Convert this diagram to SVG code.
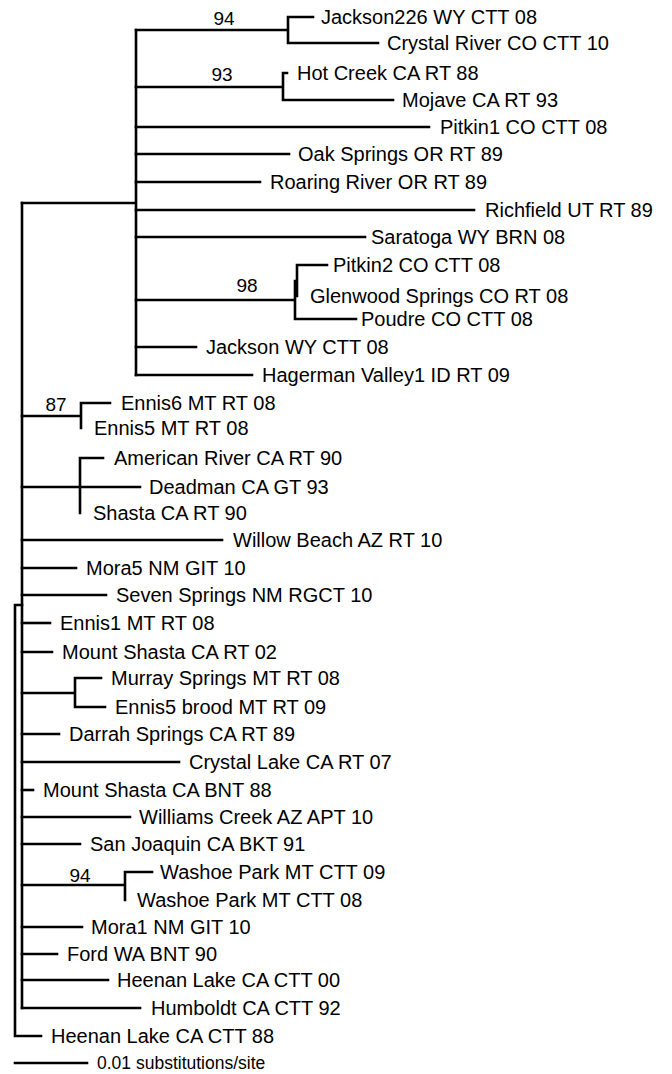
<svg xmlns="http://www.w3.org/2000/svg" width="672" height="1074" viewBox="0 0 672 1074">
<style>
.e{fill:none;stroke:#000;stroke-width:2.6;stroke-linecap:square}
.l{font-family:"Liberation Sans",Arial,sans-serif;font-size:20px;fill:#000}
.b{font-family:"Liberation Sans",Arial,sans-serif;font-size:19px;fill:#000;text-anchor:middle}
.s{font-family:"Liberation Sans",Arial,sans-serif;font-size:17.5px;fill:#000}
</style>
<rect width="672" height="1074" fill="#fff"/>
<g id="connectors" class="e">
<path d="M15,605 V1036 H41 M15,605 H22"/>
<path d="M22,203 V1008"/>
<path d="M22,203 H136 M136,30 V375"/>
<path d="M136,30 H288 M288,17 V43 M288,17 H313 M288,43 H378"/>
<path d="M136,87 H283 M283,73 V100 M283,73 H287 M283,100 H393"/>
<path d="M136,127 H429"/>
<path d="M136,154 H289"/>
<path d="M136,182 H260"/>
<path d="M136,210 H474"/>
<path d="M136,237 H365"/>
<path d="M136,300 H295 M295,281 V319 M295,319 H356 M295,281 H297 M297,265 V296 M297,265 H327"/>
<path d="M136,347 H196"/>
<path d="M136,375 H252"/>
<path d="M22,416 H81 M81,403 V428 M81,403 H110"/>
<path d="M22,487 H80 M80,458 V513 M80,458 H103 M80,487 H140"/>
<path d="M22,540 H222"/>
<path d="M22,568 H76"/>
<path d="M22,595 H106"/>
<path d="M22,623 H50"/>
<path d="M22,652 H52"/>
<path d="M22,693 H75 M75,678 V707 M75,678 H101 M75,707 H105"/>
<path d="M22,734 H59"/>
<path d="M22,762 H179"/>
<path d="M22,790 H33"/>
<path d="M22,817 H130"/>
<path d="M22,844 H80"/>
<path d="M22,885 H125 M125,872 V900 M125,872 H152"/>
<path d="M22,927 H82"/>
<path d="M22,954 H57"/>
<path d="M22,980 H108"/>
<path d="M22,1008 H140"/>
<path d="M15,1063 H87"/>
</g>
<g id="bootstrap">
<text class="b" x="224" y="25">94</text>
<text class="b" x="222" y="81">93</text>
<text class="b" x="247" y="292">98</text>
<text class="b" x="56" y="411">87</text>
<text class="b" x="80" y="882">94</text>
</g>
<g id="n1"><text class="l" x="321" y="24">Jackson226 WY CTT 08</text></g>
<g id="n2"><text class="l" x="387" y="50">Crystal River CO CTT 10</text></g>
<g id="n3"><text class="l" x="297" y="80">Hot Creek CA RT 88</text></g>
<g id="n4"><text class="l" x="402" y="107">Mojave CA RT 93</text></g>
<g id="n5"><text class="l" x="440" y="134">Pitkin1 CO CTT 08</text></g>
<g id="n6"><text class="l" x="298" y="161">Oak Springs OR RT 89</text></g>
<g id="n7"><text class="l" x="270" y="189">Roaring River OR RT 89</text></g>
<g id="n8"><text class="l" x="485" y="217">Richfield UT RT 89</text></g>
<g id="n9"><text class="l" x="371" y="244">Saratoga WY BRN 08</text></g>
<g id="n10"><text class="l" x="333" y="272">Pitkin2 CO CTT 08</text></g>
<g id="n11"><text class="l" x="310" y="303">Glenwood Springs CO RT 08</text></g>
<g id="n12"><text class="l" x="361" y="326">Poudre CO CTT 08</text></g>
<g id="n13"><text class="l" x="206" y="354">Jackson WY CTT 08</text></g>
<g id="n14"><text class="l" x="262" y="382">Hagerman Valley1 ID RT 09</text></g>
<g id="n15"><text class="l" x="121" y="410">Ennis6 MT RT 08</text></g>
<g id="n16"><text class="l" x="94" y="435">Ennis5 MT RT 08</text></g>
<g id="n17"><text class="l" x="114" y="465">American River CA RT 90</text></g>
<g id="n18"><text class="l" x="149" y="494">Deadman CA GT 93</text></g>
<g id="n19"><text class="l" x="93" y="520">Shasta CA RT 90</text></g>
<g id="n20"><text class="l" x="233" y="547">Willow Beach AZ RT 10</text></g>
<g id="n21"><text class="l" x="86" y="575">Mora5 NM GIT 10</text></g>
<g id="n22"><text class="l" x="116" y="602">Seven Springs NM RGCT 10</text></g>
<g id="n23"><text class="l" x="60" y="630">Ennis1 MT RT 08</text></g>
<g id="n24"><text class="l" x="62" y="659">Mount Shasta CA RT 02</text></g>
<g id="n25"><text class="l" x="111" y="685">Murray Springs MT RT 08</text></g>
<g id="n26"><text class="l" x="115" y="714">Ennis5 brood MT RT 09</text></g>
<g id="n27"><text class="l" x="69" y="741">Darrah Springs CA RT 89</text></g>
<g id="n28"><text class="l" x="189" y="769">Crystal Lake CA RT 07</text></g>
<g id="n29"><text class="l" x="43" y="797">Mount Shasta CA BNT 88</text></g>
<g id="n30"><text class="l" x="139" y="824">Williams Creek AZ APT 10</text></g>
<g id="n31"><text class="l" x="90" y="851">San Joaquin CA BKT 91</text></g>
<g id="n32"><text class="l" x="160" y="879">Washoe Park MT CTT 09</text></g>
<g id="n33"><text class="l" x="137" y="907">Washoe Park MT CTT 08</text></g>
<g id="n34"><text class="l" x="91" y="934">Mora1 NM GIT 10</text></g>
<g id="n35"><text class="l" x="67" y="961">Ford WA BNT 90</text></g>
<g id="n36"><text class="l" x="117" y="987">Heenan Lake CA CTT 00</text></g>
<g id="n37"><text class="l" x="151" y="1015">Humboldt CA CTT 92</text></g>
<g id="n38"><text class="l" x="51" y="1043">Heenan Lake CA CTT 88</text></g>
<g id="scale"><text class="s" x="97" y="1069">0.01 substitutions/site</text></g>
</svg>
